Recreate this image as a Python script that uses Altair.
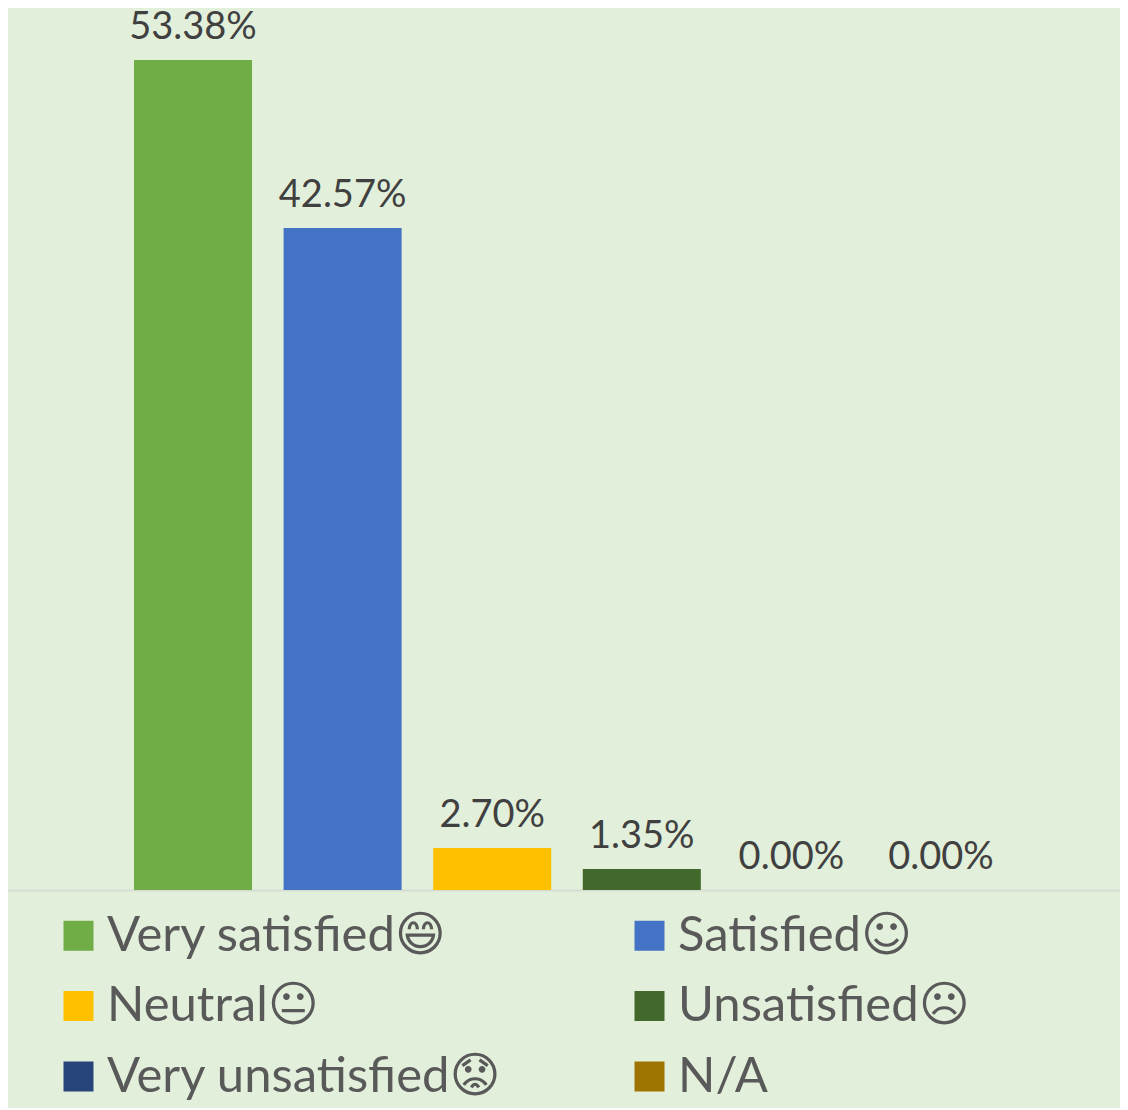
import altair as alt
import pandas as pd

categories = ["Very satisfied😄", "Satisfied☺\uFE0E", "Neutral😐", "Unsatisfied☹\uFE0E", "Very unsatisfied😟", "N/A"]
values = [53.38, 42.57, 2.70, 1.35, 0.00, 0.00]
labels = ["53.38%", "42.57%", "2.70%", "1.35%", "0.00%", "0.00%"]
colors = ["#70AD47", "#4472C4", "#FFC000", "#43682B", "#264478", "#9E7400"]
legend_order = categories

df = pd.DataFrame({"category": categories, "value": values, "label": labels})

FONT = "Lato, DejaVu Sans, Noto Sans"
BG = "#E2EFDA"

x = alt.X(
    "category:N",
    sort=categories,
    scale=alt.Scale(range=[-2.5, 1120.5], paddingInner=0.211, paddingOuter=0.859),
    axis=alt.Axis(title=None, labels=False, ticks=False, grid=False, domain=True,
                  domainColor="#D6DCD2", domainWidth=2),
)
y = alt.Y("value:Q", scale=alt.Scale(domain=[0, 56.72], nice=False), axis=None)

bars = alt.Chart(df).mark_bar(stroke=None).encode(
    x=x,
    y=y,
    color=alt.Color(
        "category:N",
        sort=legend_order,
        scale=alt.Scale(domain=legend_order, range=colors),
        legend=alt.Legend(
            title=None,
            orient="none",
            legendX=46,
            legendY=903,
            direction="horizontal",
            columns=2,
            columnPadding=123,
            rowPadding=20.5,
            symbolType="square",
            symbolSize=900,
            symbolStrokeWidth=0,
            symbolOpacity=1,
            labelFont=FONT,
            labelFontSize=49,
            labelColor="#595959",
            labelOffset=4,
            labelLimit=700,
        ),
    ),
)

text = alt.Chart(df).mark_text(
    font=FONT, fontSize=38, color="#404040", baseline="middle", dy=-32
).encode(x=x, y=y, text="label:N")

chart = (
    alt.layer(bars, text)
    .properties(
        width=1112,
        height=882,
        background=BG,
        padding={"left": 0, "top": 0, "right": 0, "bottom": 218},
        autosize=alt.AutoSizeParams(type="none"),
    )
    .configure_view(stroke=None)
)

chart.save("out.html", embed_options={"renderer": "svg", "actions": False})
